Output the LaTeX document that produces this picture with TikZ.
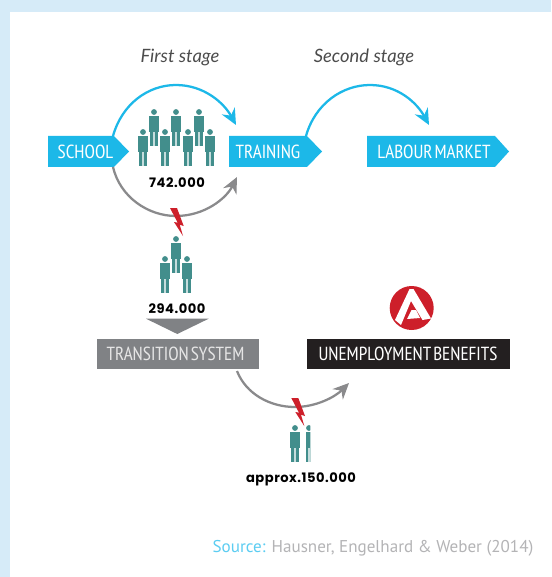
\documentclass[tikz,border=0pt]{standalone}
\usepackage{fontspec}
\setmainfont{PT Sans}
\newfontfamily\labelfont[WordSpace=0.5]{PT Sans Narrow}
\newfontfamily\stagefont{Lato}
\newfontfamily\numfont[LetterSpace=4]{Poppins}
\usetikzlibrary{arrows.meta}
\definecolor{pagebg}{HTML}{D6EBF8}
\definecolor{cyanbox}{HTML}{1CB8E8}
\definecolor{cyanlight}{HTML}{5CCDF2}
\definecolor{teal1}{HTML}{428E8C}
\definecolor{greybox}{HTML}{808285}
\definecolor{blackbox}{HTML}{231F20}
\definecolor{redmark}{HTML}{CD1F2A}
\definecolor{arcgrey}{HTML}{8A8A8C}
\definecolor{srcgrey}{HTML}{B4B4B6}
\begin{document}
\begin{tikzpicture}[x=0.75pt,y=-0.75pt,
  boxlabel/.style={font=\labelfont\fontsize{14.2}{16}\selectfont,text=white,inner sep=0pt,anchor=center},
  stagelabel/.style={font=\stagefont\itshape\fontsize{13.8}{16}\selectfont,text=black!70,inner sep=0pt},
  numlabel/.style={font=\numfont\bfseries\fontsize{9.8}{12}\selectfont,text=black,inner sep=0pt},
  blue arc/.style={draw=cyanbox,line width=1.7pt,-{Stealth[length=12pt,width=11pt,inset=4pt]}},
  grey arc/.style={draw=arcgrey,line width=1.7pt,-{Stealth[length=12pt,width=11pt,inset=4pt]}},
  person/.pic={
    \fill[teal1] (0,0) circle[radius=2.9];
    \fill[teal1] (-4.7,4.4) rectangle (4.7,20);
    \fill[teal1] (-3.6,20) rectangle (3.6,34);
    \fill[teal1!30] (-0.6,20) rectangle (0.6,34);
  },
  bolt/.pic={
    \fill[redmark] (0,0) -- (7,0) -- (13.7,18) -- (9.7,16.7) -- (13,28) -- (4,14) -- (7.7,14.7) -- cycle;
  }]
\useasboundingbox (0,0) rectangle (551,577);
\fill[pagebg] (0,0) rectangle (551,577);
\fill[white] (10,12) rectangle (551,577);

% coordinates for connectors
\coordinate (blueEnd1) at (236,125);
\coordinate (greyEnd1) at (237,177);
\coordinate (blueEnd2) at (429,125);
\coordinate (greyEnd2) at (349,383);

% boxes
\fill[cyanbox] (48,136) -- (114,136) -- (129,151.5) -- (114,167) -- (48,167) -- cycle;
\node[boxlabel] (school) at (85.5,151.5) {SCHOOL};
\fill[cyanbox] (229,136) -- (307,136) -- (322,151.5) -- (307,167) -- (229,167) -- cycle;
\node[boxlabel] (training) at (268,151.5) {TRAINING};
\fill[cyanbox] (367,136) -- (495,136) -- (509,151.5) -- (495,167) -- (367,167) -- cycle;
\node[boxlabel] (labour) at (434,151.5) {LABOUR MARKET};
\fill[greybox] (97,339) rectangle (259,369);
\node[boxlabel,text=white!90!black] (transition) at (175.5,354) {TRANSITION SYSTEM};
\fill[blackbox] (306.7,339) rectangle (510,369);
\node[boxlabel] (unemp) at (408,354) {UNEMPLOYMENT BENEFITS};

% arcs
\draw[blue arc] (113,136) .. controls (122,104) and (148,85) .. (176,85) .. controls (204,85) and (224,103) .. (blueEnd1);
\draw[grey arc] (113,167) .. controls (120,197) and (148,216) .. (176,216) .. controls (204,216) and (226,199) .. (greyEnd1);
\draw[blue arc] (306,136) .. controls (315,104) and (342,85) .. (370,85) .. controls (398,85) and (417,103) .. (blueEnd2);
\draw[grey arc] (237,371) .. controls (246,394) and (270,407) .. (295,407) .. controls (316,407) and (335,397) .. (greyEnd2);

% people
\foreach \px/\py in {154/112,176/112,199/112,143/132,165/132,188/132,210/132,176/239,165/259,187/259,295/428}
  \pic at (\px,\py) {person};
\begin{scope}
  \clip (306,420) rectangle (310.3,470);
  \pic at (309,428) {person};
\end{scope}

% bolts
\pic at (170,208) {bolt};
\pic at (291.3,398) {bolt};

% triangle
\fill[greybox] (146,318.7) -- (208.7,318.7) -- (177.3,334) -- cycle;

% logo
\fill[redmark] (411.7,308) circle[radius=22];
\fill[white] (409.5,289) -- (413.5,289) -- (431,318.5) -- (422.5,320) -- (411,301) -- (401,325) -- (395,320) -- cycle;
\fill[white] (407,319) -- (411.5,310) -- (416,310) -- (420,318) -- cycle;

% texts
\node[stagelabel] (first) at (180,57) {First stage};
\node[stagelabel] (second) at (364,57) {Second stage};
\node[numlabel] (n1) at (177,183) {742.000};
\node[numlabel] (n2) at (177,309) {294.000};
\node[numlabel] (n3) at (301,479) {approx.150.000};
\node[inner sep=0pt,font=\fontsize{12.8}{15}\selectfont] (src) at (373,548) {\textcolor{cyanlight}{Source:} \textcolor{srcgrey}{Hausner, Engelhard \& Weber (2014)}};
\end{tikzpicture}
\end{document}
